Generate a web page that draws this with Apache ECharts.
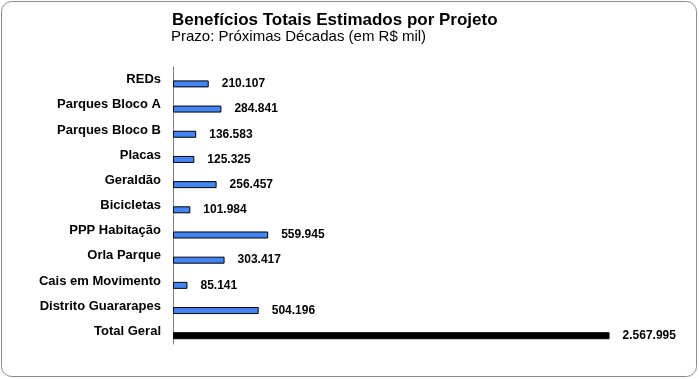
<!DOCTYPE html>
<html>
<head>
<meta charset="utf-8">
<script src="https://cdn.jsdelivr.net/npm/echarts@6/dist/echarts.min.js"></script>
<style>html,body{margin:0;padding:0;background:#fff}#c{width:699px;height:379px}</style>
</head>
<body>
<div id="c"></div>
<script>
const titleText = 'Benefícios Totais Estimados por Projeto';
const subtitleText = 'Prazo: Próximas Décadas (em R$ mil)';
const categories = ['REDs','Parques Bloco A','Parques Bloco B','Placas','Geraldão','Bicicletas','PPP Habitação','Orla Parque','Cais em Movimento','Distrito Guararapes','Total Geral'];
const values = [210107,284841,136583,125325,256457,101984,559945,303417,85141,504196,2567995];
const totalIndex = 10;

function fmt(n){ return String(n).replace(/\B(?=(\d{3})+(?!\d))/g,'.'); }

const chart = echarts.init(document.getElementById('c'), null, {renderer:'canvas'});
chart.setOption({
  backgroundColor:'#fff',
  animation:false,
  title:[
    {text:titleText,left:172,top:12,padding:0,textStyle:{fontFamily:'Liberation Sans, Arial, sans-serif',fontWeight:'bold',fontSize:17,color:'#000'}},
    {text:subtitleText,left:171,top:29,padding:0,textStyle:{fontFamily:'Liberation Sans, Arial, sans-serif',fontWeight:'normal',fontSize:15,color:'#000'}}
  ],
  graphic:[{type:'rect',shape:{x:1.5,y:1.5,width:695,height:375,r:10},style:{fill:'none',stroke:'#8a8a8a',lineWidth:1},silent:true}],
  grid:{left:173,right:16,top:67,height:277,containLabel:false},
  xAxis:{type:'value',min:0,max:3000000,show:false,splitLine:{show:false}},
  yAxis:{type:'category',inverse:true,data:categories,
    axisLine:{show:true,lineStyle:{color:'#808080',width:1}},
    axisTick:{show:false},
    axisLabel:{margin:12,color:'#000',fontFamily:'Liberation Sans, Arial, sans-serif',fontWeight:'bold',fontSize:13}
  },
  series:[
    {type:'bar',name:'spacer',data:categories.map(()=> '-'),barWidth:7,silent:true},
    {type:'bar',name:'valor',barWidth:7,barGap:'23%',
      data:values.map((v,i)=>({value:v,itemStyle:{color:i===totalIndex?'#000':'#4285f4'}})),
      itemStyle:{borderColor:'#000',borderWidth:1},
      label:{show:true,position:'right',distance:13,formatter:p=>fmt(p.value),color:'#000',
        fontFamily:'Liberation Sans, Arial, sans-serif',fontWeight:'bold',fontSize:12}
    }
  ]
});
</script>
</body>
</html>
